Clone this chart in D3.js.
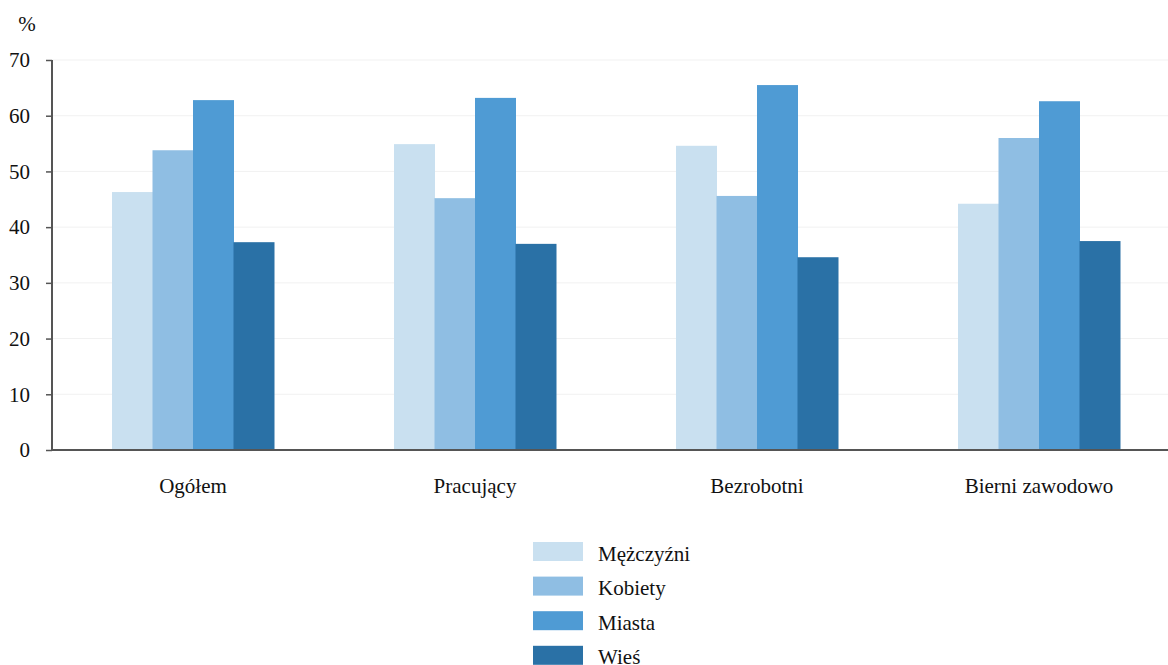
<!DOCTYPE html>
<html><head><meta charset="utf-8">
<script src="https://cdn.jsdelivr.net/npm/d3@7"></script>
<style>body{margin:0;background:#fff}svg{display:block}</style>
</head><body><svg id="c" width="1168" height="665"></svg>
<script>
const categories = ["Ogółem","Pracujący","Bezrobotni","Bierni zawodowo"];
const seriesNames = ["Mężczyźni","Kobiety","Miasta","Wieś"];
const men   = [46.3, 54.9, 54.6, 44.2];
const women = [53.8, 45.2, 45.6, 56.0];
const urban = [62.8, 63.2, 65.5, 62.6];
const rural = [37.3, 37.0, 34.6, 37.5];
const yTicks = [0,10,20,30,40,50,60,70];
const colors = ["#c9e0f0","#8fbee3","#4f9bd4","#2a71a6"];

const FONT = "'Liberation Serif'";
const FS = "21px";
const series = [men, women, urban, rural];
const svg = d3.select("#c");
const x0 = d3.scaleBand().domain(categories).range([52,1180]).paddingInner(0).paddingOuter(0);
const y = d3.scaleLinear().domain([0,70]).range([450,60]);
const groupW = 162;
const x1 = d3.scaleBand().domain(seriesNames).range([0,groupW]);

function styleText(sel){ return sel.style("font-family",FONT).style("font-size",FS).attr("fill","#111"); }

// grid
svg.append("g").selectAll("line").data(yTicks.slice(1)).join("line")
  .attr("x1",52).attr("x2",1168).attr("y1",d=>y(d)).attr("y2",d=>y(d))
  .attr("stroke","#f1f1f1").attr("stroke-width",1);

// bars
categories.forEach((c,ci)=>{
  const gx = x0(c) + (x0.bandwidth()-groupW)/2;
  svg.append("g").selectAll("rect").data(seriesNames).join("rect")
    .attr("x",(s)=>gx + x1(s)).attr("width",x1.bandwidth()+0.5)
    .attr("y",(s,si)=>y(series[si][ci])).attr("height",(s,si)=>y(0)-y(series[si][ci]))
    .attr("fill",(s,si)=>colors[si]);
});

// y axis
const ya = svg.append("g").attr("transform","translate(52,0)")
  .call(d3.axisLeft(y).tickValues(yTicks).tickSize(6).tickPadding(16).tickFormat(d3.format("d")));
ya.select(".domain").attr("stroke","#555").attr("stroke-width",2).attr("d","M0,60V450");
ya.selectAll(".tick line").attr("stroke","#555").attr("stroke-width",1.5);
styleText(ya.selectAll(".tick text"));

// x axis line
svg.append("line").attr("x1",52).attr("x2",1168).attr("y1",450).attr("y2",450)
  .attr("stroke","#555").attr("stroke-width",2);
styleText(svg.append("g").selectAll("text").data(categories).join("text")
  .attr("x",d=>x0(d)+x0.bandwidth()/2).attr("y",493).attr("text-anchor","middle").text(d=>d));

styleText(svg.append("text").attr("x",27).attr("y",31).attr("text-anchor","middle").text("%"));

// legend
const lg = svg.append("g").selectAll("g").data(seriesNames).join("g")
  .attr("transform",(d,i)=>`translate(533,${542+i*34.6})`);
lg.append("rect").attr("width",50).attr("height",19).attr("fill",(d,i)=>colors[i]);
styleText(lg.append("text").attr("x",65).attr("y",18.5).text(d=>d));
</script></body></html>
